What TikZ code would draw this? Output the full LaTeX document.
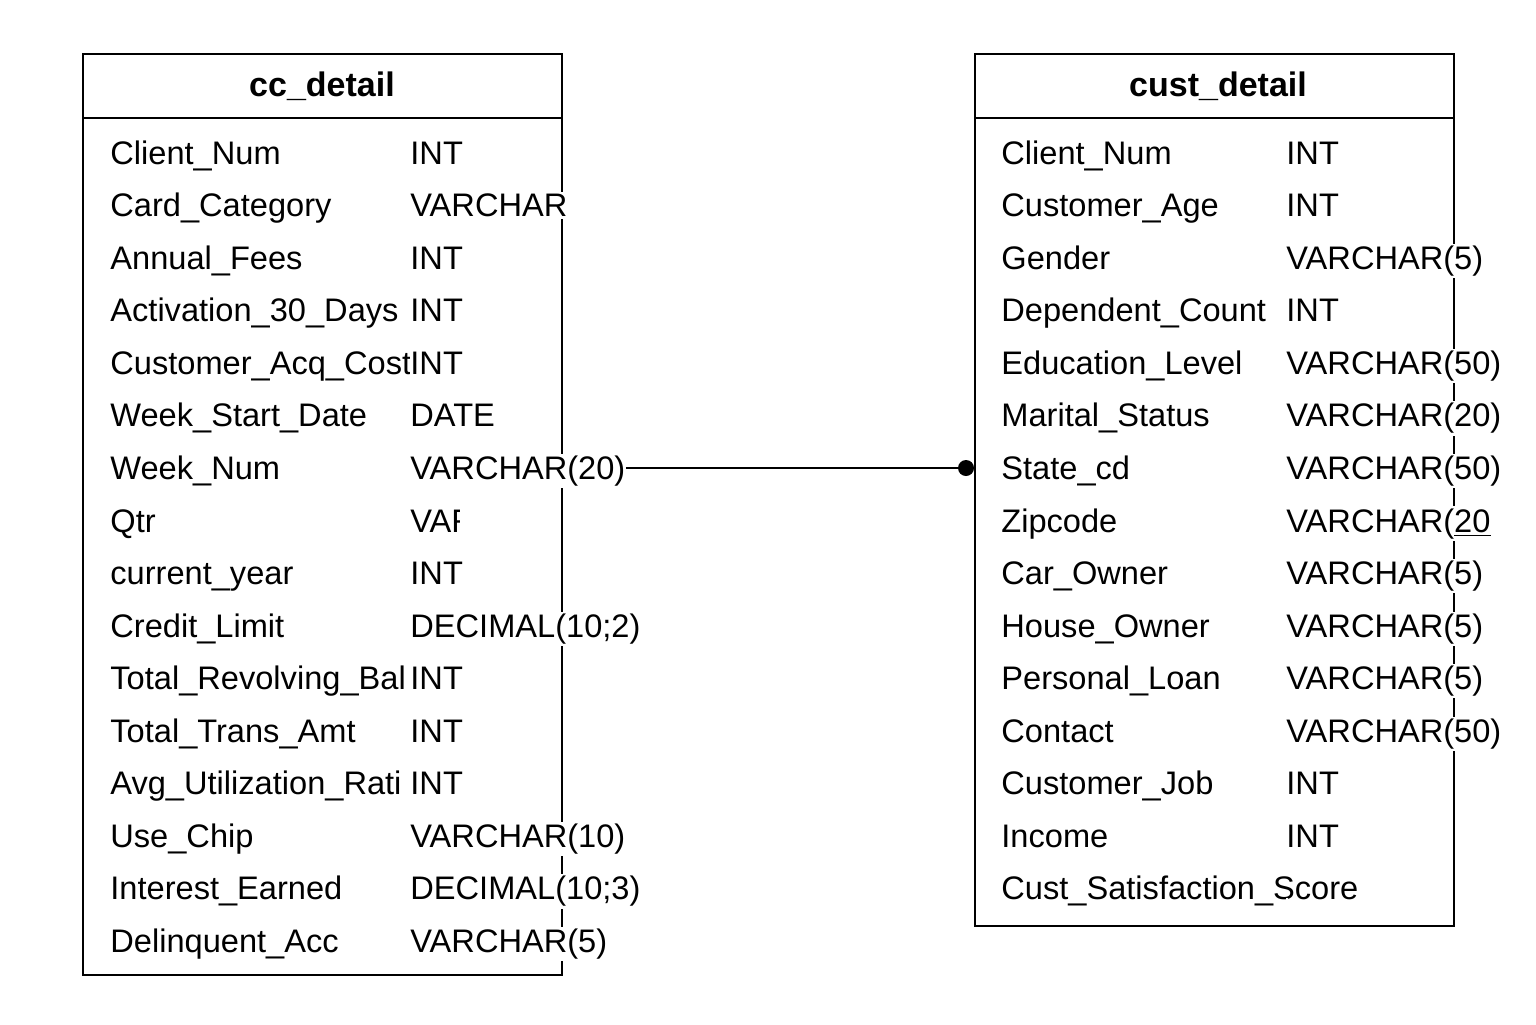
\documentclass[tikz,border=0pt]{standalone}
\usepackage{fontspec}
\setmainfont{Liberation Sans}
\begin{document}
\begin{tikzpicture}[x=0.5pt,y=-0.5pt,
  tbl/.style={draw,line width=1pt},
  fld/.style={anchor=base west,inner xsep=0pt,inner ysep=1pt,fill=white,font=\fontsize{16.3}{19}\selectfont},
  ttl/.style={font=\fontsize{17}{20}\selectfont\bfseries}]
\useasboundingbox (0,0) rectangle (1536,1024);

% cc_detail
\draw[tbl] (83,54) rectangle (562,975);
\draw[tbl] (83,118) -- (562,118);
\node[ttl] (lhead) at (322,86) {cc\_detail};
\foreach \n/\t [count=\i, evaluate=\i as \yy using 164+(\i-1)*52.57] in {Client\_Num/INT, Card\_Category/VARCHAR, Annual\_Fees/INT, Activation\_30\_Days/INT, Customer\_Acq\_Cost/INT, Week\_Start\_Date/DATE, Week\_Num/VARCHAR(20), Qtr/, current\_year/INT, Credit\_Limit/{DECIMAL(10;2)}, Total\_Revolving\_Bal/INT, Total\_Trans\_Amt/INT, Avg\_Utilization\_Rati/INT, Use\_Chip/VARCHAR(10), Interest\_Earned/{DECIMAL(10;3)}, Delinquent\_Acc/VARCHAR(5)}
  { \node[fld] (ln\i) at (110,\yy) {\n}; }
\foreach \n/\t [count=\i, evaluate=\i as \yy using 164+(\i-1)*52.57] in {Client\_Num/INT, Card\_Category/VARCHAR, Annual\_Fees/INT, Activation\_30\_Days/INT, Customer\_Acq\_Cost/INT, Week\_Start\_Date/DATE, Week\_Num/VARCHAR(20), Qtr/, current\_year/INT, Credit\_Limit/{DECIMAL(10;2)}, Total\_Revolving\_Bal/INT, Total\_Trans\_Amt/INT, Avg\_Utilization\_Rati/INT, Use\_Chip/VARCHAR(10), Interest\_Earned/{DECIMAL(10;3)}, Delinquent\_Acc/VARCHAR(5)}
  { \node[fld] (lt\i) at (410,\yy) {\t}; }
\begin{scope}
  \clip (400,495) rectangle (459,545);
  \node[fld] (qtrtype) at (410,532) {VAR};
\end{scope}

% cust_detail
\draw[tbl] (975,54) rectangle (1454,926);
\draw[tbl] (975,118) -- (1454,118);
\node[ttl] (rhead) at (1218,86) {cust\_detail};
\foreach \n/\t [count=\i, evaluate=\i as \yy using 164+(\i-1)*52.57] in {Client\_Num/INT, Customer\_Age/INT, Gender/VARCHAR(5), Dependent\_Count/INT, Education\_Level/VARCHAR(50), Marital\_Status/VARCHAR(20), State\_cd/VARCHAR(50), Zipcode/{VARCHAR(\underline{20}}, Car\_Owner/VARCHAR(5), House\_Owner/VARCHAR(5), Personal\_Loan/VARCHAR(5), Contact/VARCHAR(50), Customer\_Job/INT, Income/INT, Cust\_Satisfaction\_Score/}
  { \node[fld] (rn\i) at (1001,\yy) {\n};
    \node[fld] (rt\i) at (1286,\yy) {\t}; }

% link
\coordinate (fk) at (966,468);
\draw[line width=1pt] (lt7.east |- fk) -- (fk);
\fill (fk) circle (8);

\end{tikzpicture}
\end{document}
